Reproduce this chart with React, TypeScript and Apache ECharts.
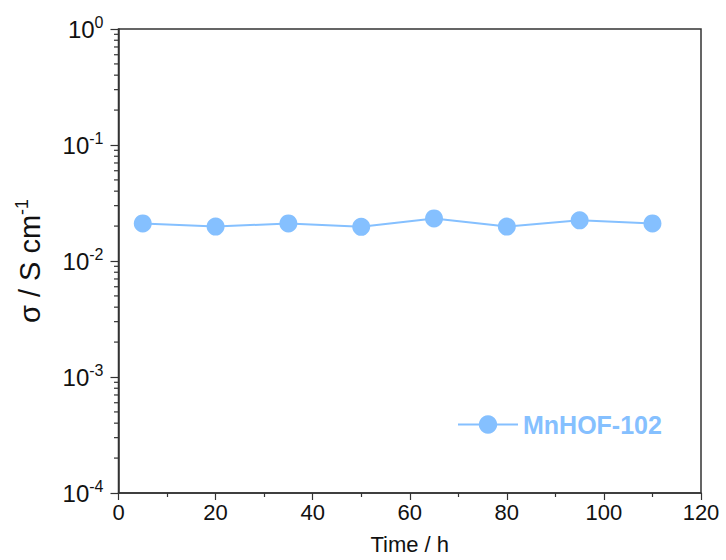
import React, { useEffect, useRef } from "react";
import * as echarts from "echarts";

const timeH = [5, 20, 35, 50, 65, 80, 95, 110];
const sigma = [0.0211, 0.0198, 0.0211, 0.0197, 0.0233, 0.0198, 0.0224, 0.0211];
const seriesName = "MnHOF-102";
const xTicks = [0, 20, 40, 60, 80, 100, 120];
const yMinorTicks: number[] = [];
for (const d of [1e-4, 1e-3, 1e-2, 1e-1]) {
  for (let k = 2; k <= 9; k++) yMinorTicks.push(d * k);
}

const BLUE = "#85C0FF";
const AXIS = "#333";
const FONT = "Liberation Sans, Arial, sans-serif";

export default function App() {
  const ref = useRef<HTMLDivElement>(null);
  useEffect(() => {
    document.body.style.margin = "0";
    const chart = echarts.init(ref.current!, null, { renderer: "svg" });
    chart.setOption({
      animation: false,
      backgroundColor: "#fff",
      textStyle: { fontFamily: FONT },
      grid: {
        left: 118.5,
        right: 25,
        top: 29,
        bottom: 63,
        show: true,
        borderColor: AXIS,
        borderWidth: 1.5,
      },
      legend: {
        data: [seriesName],
        left: 452,
        top: 407,
        itemWidth: 60,
        itemHeight: 23,
        itemGap: 8,
        textStyle: { color: BLUE, fontSize: 25, fontWeight: "bold", fontFamily: FONT },
      },
      xAxis: {
        type: "value",
        min: xTicks[0],
        max: xTicks[xTicks.length - 1],
        interval: 20,
        name: "Time / h",
        nameLocation: "middle",
        nameGap: 40,
        nameTextStyle: { fontSize: 22, color: "#111", fontFamily: FONT },
        axisLine: { lineStyle: { color: AXIS, width: 1.5 } },
        axisTick: { length: 7, lineStyle: { color: AXIS, width: 1.2 } },
        minorTick: { show: true, splitNumber: 2, length: 4, lineStyle: { color: AXIS, width: 1.2 } },
        splitLine: { show: false },
        axisLabel: { fontSize: 22, color: "#111", margin: 8, fontFamily: FONT },
      },
      yAxis: {
        type: "log",
        logBase: 10,
        min: 1e-4,
        max: 1,
        name: "{a|σ / S cm}{s|-1}",
        nameLocation: "middle",
        nameGap: 72,
        nameTextStyle: {
          rich: {
            a: { fontSize: 29, color: "#111", fontFamily: FONT },
            s: { fontSize: 18, color: "#111", fontFamily: FONT, padding: [0, 0, 16, 0] },
          },
        },
        axisLine: { show: true, lineStyle: { color: AXIS, width: 1.5 } },
        axisTick: { show: true, length: 8, lineStyle: { color: AXIS, width: 1.2 } },
        splitLine: { show: false },
        axisLabel: {
          margin: 15,
          formatter: (v: number) => "{b|10}{s|" + Math.round(Math.log10(v)) + "}",
          rich: {
            b: { fontSize: 24, color: "#111", fontFamily: FONT },
            s: { fontSize: 16, color: "#111", fontFamily: FONT, padding: [0, 0, 14, 0] },
          },
        },
      },
      series: [
        {
          name: seriesName,
          type: "line",
          data: timeH.map((t, i) => [t, sigma[i]]),
          symbol: "circle",
          symbolSize: 18,
          itemStyle: { color: BLUE },
          lineStyle: { color: BLUE, width: 2 },
          z: 3,
        },
        {
          type: "custom",
          name: "minorTicks",
          silent: true,
          clip: false,
          data: yMinorTicks.map((v) => [0, v]),
          renderItem: (params: any, api: any) => {
            const p = api.coord([0, api.value(1)]);
            return {
              type: "line",
              shape: { x1: p[0] - 4.5, y1: p[1], x2: p[0], y2: p[1] },
              style: { stroke: AXIS, lineWidth: 1.2 },
            };
          },
          z: 2,
        },
      ],
    });
    return () => chart.dispose();
  }, []);
  return <div ref={ref} style={{ width: 726, height: 560 }} />;
}
